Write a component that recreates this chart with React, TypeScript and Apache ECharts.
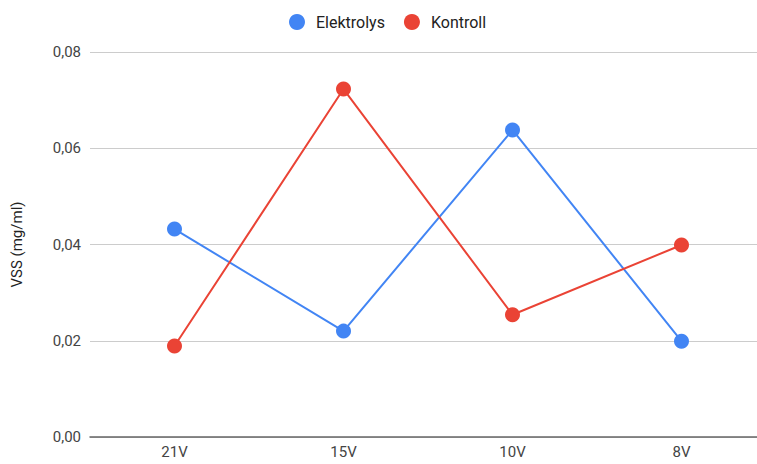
import React, { useEffect, useRef } from "react";
import * as echarts from "echarts";

const categories = ["21V", "15V", "10V", "8V"];
const elektrolys = [0.0432, 0.022, 0.0638, 0.0199];
const kontroll = [0.0189, 0.0723, 0.0254, 0.0399];
const yTicks = [0, 0.02, 0.04, 0.06, 0.08];

export default function App() {
  const ref = useRef<HTMLDivElement>(null);
  useEffect(() => {
    if (!ref.current) return;
    const chart = echarts.init(ref.current, null, { renderer: "svg" });
    const font = "Roboto, Arial, sans-serif";
    chart.setOption({
      animation: false,
      backgroundColor: "#ffffff",
      textStyle: { fontFamily: font },
      legend: {
        top: 9,
        left: 284,
        icon: "circle",
        itemWidth: 16,
        itemHeight: 16,
        itemGap: 19,
        textStyle: { fontSize: 16, color: "#222222", fontFamily: font, padding: [0, 0, 0, 6] },
        data: ["Elektrolys", "Kontroll"],
      },
      grid: { left: 90, top: 52, width: 676, height: 385, containLabel: false },
      xAxis: {
        type: "category",
        data: categories,
        boundaryGap: true,
        axisLine: { show: true, lineStyle: { color: "#666666", width: 1.5 } },
        axisTick: { show: false },
        axisLabel: { fontSize: 15, color: "#444444", margin: 7, fontFamily: font },
        splitLine: { show: false },
      },
      yAxis: {
        type: "value",
        min: yTicks[0],
        max: yTicks[yTicks.length - 1],
        interval: 0.02,
        name: "VSS (mg/ml)",
        nameLocation: "middle",
        nameGap: 66,
        nameTextStyle: { fontSize: 15, color: "#222222", fontFamily: font },
        axisLine: { show: false },
        axisTick: { show: false },
        axisLabel: {
          fontSize: 15,
          color: "#444444",
          margin: 9,
          fontFamily: font,
          formatter: (v: number) => v.toFixed(2).replace(".", ","),
        },
        splitLine: { lineStyle: { color: "#cccccc", width: 1 } },
      },
      series: [
        {
          name: "Elektrolys",
          type: "line",
          data: elektrolys,
          symbol: "circle",
          symbolSize: 15,
          color: "#4285F4",
          lineStyle: { width: 2, color: "#4285F4" },
          itemStyle: { color: "#4285F4" },
        },
        {
          name: "Kontroll",
          type: "line",
          data: kontroll,
          symbol: "circle",
          symbolSize: 15,
          color: "#EA4335",
          lineStyle: { width: 2, color: "#EA4335" },
          itemStyle: { color: "#EA4335" },
        },
      ],
    });
    return () => chart.dispose();
  }, []);
  return (
    <div
      style={{
        position: "absolute",
        left: 0,
        top: 0,
        width: 757,
        height: 464,
        overflow: "hidden",
      }}
    >
      <div ref={ref} style={{ width: 766, height: 464 }} />
    </div>
  );
}
